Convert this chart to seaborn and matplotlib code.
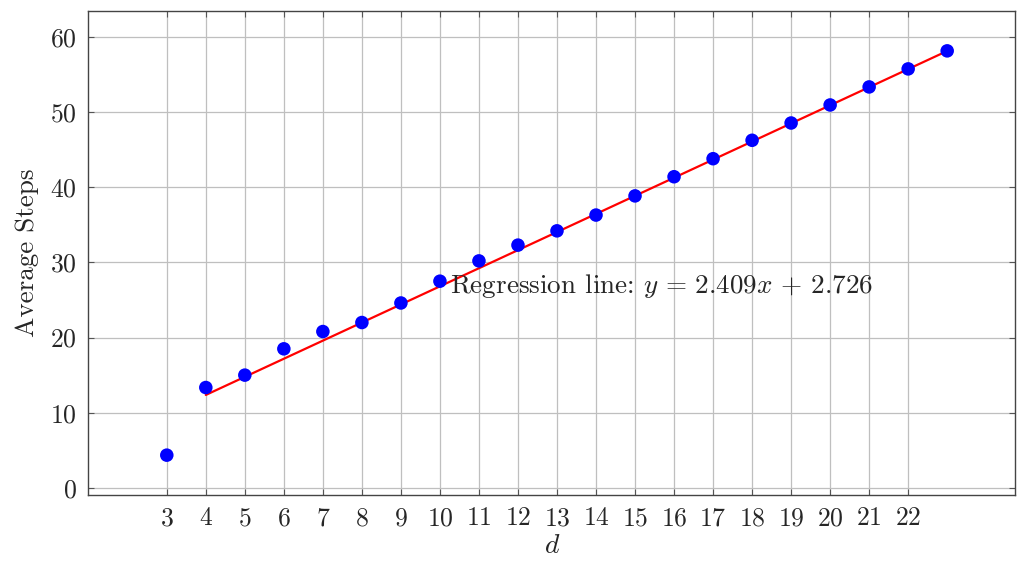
import numpy as np
import matplotlib

matplotlib.use('Agg')
import matplotlib.pyplot as plt
import pandas as pd
import seaborn as sns

# data
d_values = [3, 4, 5, 6, 7, 8, 9, 10, 11, 12, 13, 14, 15, 16, 17, 18, 19, 20, 21, 22, 23]
avg_steps = [4.35, 13.35, 15.0, 18.5, 20.8, 22.0, 24.6, 27.5, 30.2, 32.3, 34.2,
             36.3, 38.85, 41.4, 43.8, 46.25, 48.55, 50.95, 53.35, 55.75, 58.15]
x_ticks = list(range(3, 23))
y_ticks = [0, 10, 20, 30, 40, 50, 60]
slope = 2.409
intercept = 2.726
fit_range = [4, 23]

sns.set_style('ticks')
plt.rcParams.update({
    'font.family': 'serif',
    'font.serif': ['cmr10', 'DejaVu Serif'],
    'mathtext.fontset': 'cm',
    'axes.formatter.use_mathtext': True,
})

df = pd.DataFrame({'d': d_values, 'steps': avg_steps})
fit_x = np.array(fit_range)
fit_df = pd.DataFrame({'d': fit_x, 'steps': slope * fit_x + intercept})

fig = plt.figure(figsize=(10.17, 5.61), dpi=100)
ax = fig.add_axes([0.0865, 0.117, 0.912, 0.864])

ax.grid(True, color='#bfbfbf', linewidth=0.9)
ax.set_axisbelow(True)

sns.lineplot(data=fit_df, x='d', y='steps', ax=ax, color='red', linewidth=1.6, zorder=2)
sns.scatterplot(data=df, x='d', y='steps', ax=ax, color='blue', s=95,
                edgecolor='none', zorder=3)

ax.text(10.25, 26.9, rf'Regression line: $y \,=\, {slope}x \,+\, {intercept}$',
        fontsize=19.5, ha='left', va='center', zorder=4)

ax.set_xlim(0.98, 24.75)
ax.set_ylim(-1.0, 63.5)
ax.set_xticks(x_ticks)
ax.set_yticks(y_ticks)
ax.tick_params(direction='in', length=4, width=0.8, color='#555555',
               labelsize=18.5, top=True, right=True, pad=8)
ax.set_xlabel('$d$', fontsize=20, labelpad=2)
ax.set_ylabel('Average Steps', fontsize=19.5, labelpad=8)

for sp in ax.spines.values():
    sp.set_color('#444444')
    sp.set_linewidth(1.0)

fig.savefig('out.png', dpi=100)
